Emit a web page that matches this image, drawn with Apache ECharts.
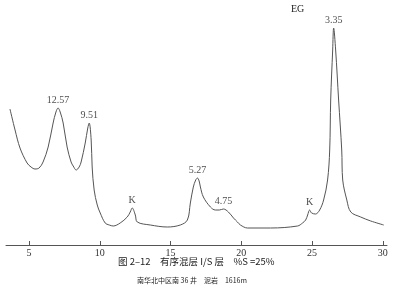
<!DOCTYPE html>
<html><head><meta charset="utf-8">
<script src="https://cdn.jsdelivr.net/npm/echarts@6/dist/echarts.min.js"></script>
<style>html,body{margin:0;padding:0;background:#fff}#c{width:399px;height:290px}</style>
</head><body><div id="c"></div>
<script>
// 2θ (degrees) and relative intensity
const twoTheta = [3.65,4.01,4.36,4.86,5.14,5.42,5.71,5.99,6.35,6.70,6.90,7.05,7.20,7.41,7.69,7.97,8.12,8.33,8.54,8.68,8.97,9.15,9.25,9.39,9.46,9.60,9.82,10.03,10.38,10.67,10.95,11.44,11.94,12.15,12.29,12.51,12.65,13.57,14.77,15.69,16.19,16.40,16.61,16.78,16.90,17.02,17.11,17.32,17.82,18.17,18.45,18.74,19.09,19.45,19.73,19.94,20.44,22.07,23.98,24.33,24.55,24.69,24.83,24.97,25.25,25.54,25.82,26.10,26.25,26.32,26.46,26.53,26.67,26.88,27.10,27.17,27.46,27.74,28.44,29.15,30.07];
const intensity = [136,115,97,82,78,76,77,83,98,122,133,137,133,122,98,83,79,75,78,83,102,117,122,105,78,55,40,32,22,20,19,22,28,33,37,30,23,20,18,20,25,42,58,65,67,64,58,48,38,35,35,36,33,27,23,20,17,17,19,22,25,30,35,32,31,35,45,65,95,145,195,217,195,145,95,65,45,33,28,24,20];
// peak annotations
const peakX = [7.05, 9.25, 12.29, 16.90, 18.74, 24.83, 26.53];
const peakY = [137, 122, 37, 67, 36, 35, 217];
const peakLabels = ['12.57', '9.51', 'K', '5.27', '4.75', 'K', '3.35'];
const tickValues = [5, 10, 15, 20, 25, 30];
const topNote = 'EG';
const caption1 = '图 2–12　有序混层 I/S 层　%S =25%';
const caption2 = '南华北中区南 36 井　泥岩　1616m';

const chart = echarts.init(document.getElementById('c'), null, {renderer: 'canvas'});
const serif = '"Liberation Serif", "DejaVu Serif", serif';
chart.setOption({
  animation: false,
  backgroundColor: '#fff',
  grid: {left: 6, right: 12, top: 0, bottom: 45},
  xAxis: {
    type: 'value', min: 3.37, max: 30.3,
    splitLine: {show: false},
    axisLine: {show: true, lineStyle: {color: '#555', width: 1}},
    axisTick: {show: true, inside: true, length: 4, customValues: tickValues, lineStyle: {color: '#555'}},
    axisLabel: {customValues: tickValues, color: '#333', fontFamily: serif, fontSize: 10, margin: 3}
  },
  yAxis: {type: 'value', min: 0, max: 245, show: false},
  series: [
    {
      type: 'line', data: twoTheta.map((x, i) => [x, intensity[i]]),
      showSymbol: false, smooth: 0.35, lineStyle: {color: '#555', width: 1}, silent: true
    },
    {
      type: 'scatter', data: peakX.map((x, i) => [x, peakY[i], peakLabels[i]]),
      symbolSize: 0,
      label: {show: true, position: 'top', distance: 3, formatter: p => p.data[2],
        color: '#222', fontFamily: serif, fontSize: 10}
    }
  ],
  graphic: [
    {type: 'text', left: 291, top: 4, style: {text: topNote, fill: '#222', font: '10px ' + serif}},
    {type: 'text', left: 118, top: 257, style: {text: caption1, fill: '#222', font: '9.5px "Noto Sans CJK SC", sans-serif'}},
    {type: 'text', left: 137, top: 277, style: {text: caption2, fill: '#222', font: '7px "Noto Sans CJK SC", sans-serif'}}
  ]
});
</script></body></html>
